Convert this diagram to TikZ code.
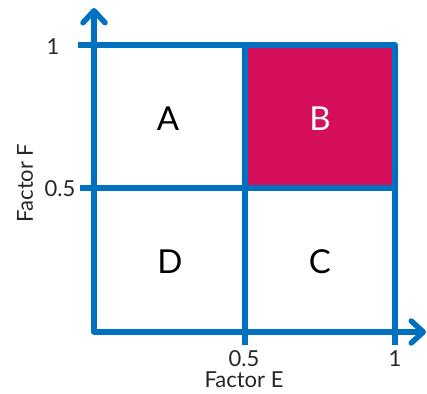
\documentclass[tikz,border=0pt]{standalone}
\usepackage{fontspec}
\setmainfont{Lato}
\usetikzlibrary{arrows.meta}
\definecolor{axisblue}{HTML}{0070C0}
\definecolor{cellmag}{HTML}{D60F5D}
\begin{document}
\begin{tikzpicture}[x=1pt,y=-1pt,
  gridline/.style={draw=axisblue,line width=5.5pt,line cap=butt,line join=round},
  axisline/.style={draw=axisblue,line width=5.5pt,line join=round,
    {Straight Barb[length=12pt,width=22pt,round]}-{Straight Barb[length=12pt,width=22pt,round]}},
  cell/.style={font=\fontsize{33}{33}\selectfont,text=black},
  tick/.style={font=\fontsize{22}{22}\selectfont,text=black!85},
  axlabel/.style={font=\fontsize{22}{22}\selectfont,text=black!85,inner sep=0pt}]
\useasboundingbox (0,0) rectangle (427,393);
% filled cell B
\fill[cellmag] (245,45) rectangle (395,188);
% grid
\coordinate (t0) at (78,45);
\coordinate (t1) at (395,45);
\coordinate (t2) at (395,345);
\coordinate (m0) at (80,188);
\coordinate (m1) at (395,188);
\coordinate (v0) at (245,45);
\coordinate (v1) at (245,345);
\draw[gridline] (t0) -- (t1) -- (t2);
\draw[gridline] (m0) -- (m1);
\draw[gridline] (v0) -- (v1);
% axes
\coordinate (ytop) at (94,8);
\coordinate (orig) at (94,332);
\coordinate (xend) at (426,332);
\draw[axisline] (ytop) -- (orig) -- (xend);
% cells
\node[cell] (A) at (168,119) {A};
\node[cell,text=white] (B) at (320,119) {B};
\node[cell] (D) at (170,262) {D};
\node[cell] (C) at (320,262) {C};
% ticks
\node[tick] (y1) at (53,47) {1};
\node[tick] (y05) at (60,189) {0.5};
\node[tick] (x05) at (244,359) {0.5};
\node[tick] (x1) at (395,359) {1};
% axis labels
\node[axlabel] (fe) at (244,380) {Factor E};
\node[axlabel,rotate=90] (ff) at (25,183) {Factor F};
\end{tikzpicture}
\end{document}
